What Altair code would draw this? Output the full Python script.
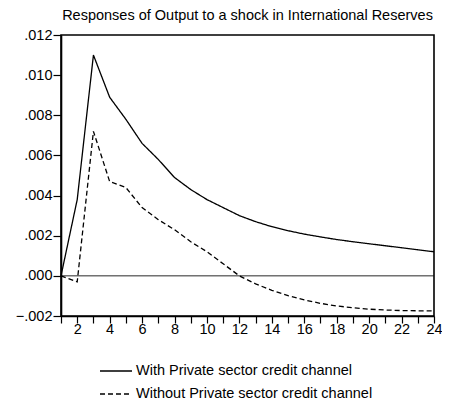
import altair as alt
import pandas as pd

periods = list(range(1, 25))
with_credit = [0.0, 0.0038, 0.0110, 0.0089, 0.0078, 0.0066, 0.0058, 0.0049,
               0.0043, 0.0038, 0.0034, 0.0030, 0.0027, 0.00245, 0.00225, 0.00208,
               0.00194, 0.00181, 0.0017, 0.0016, 0.0015, 0.0014, 0.0013, 0.0012]
without_credit = [0.0, -0.0003, 0.0072, 0.0047, 0.0044, 0.0034, 0.0028, 0.0023,
                  0.0017, 0.0012, 0.0006, 0.0000, -0.0004, -0.00072, -0.00098, -0.0012,
                  -0.00137, -0.0015, -0.00159, -0.00166, -0.0017, -0.00173, -0.00174, -0.00175]
series_names = ["With Private sector credit channel", "Without Private sector credit channel"]
y_ticks = [-0.002, 0.0, 0.002, 0.004, 0.006, 0.008, 0.010, 0.012]
title_text = "Responses of Output to a shock in International Reserves"

df = pd.DataFrame({
    "period": periods * 2,
    "value": with_credit + without_credit,
    "series": [series_names[0]] * len(periods) + [series_names[1]] * len(periods),
})
zero_df = pd.DataFrame({"y": [0.0]})

FONT = "Liberation Sans"

x_enc = alt.X("period:Q",
              scale=alt.Scale(domain=[1, 24], nice=False, zero=False),
              axis=alt.Axis(values=periods, title=None, grid=False,
                            labelExpr="datum.value % 2 == 0 ? datum.label : ''",
                            tickSize=7, labelPadding=-1, labelFontSize=14.5,
                            labelFlush=False))
y_enc = alt.Y("value:Q",
              scale=alt.Scale(domain=[-0.002, 0.012], nice=False, zero=False),
              axis=alt.Axis(values=y_ticks, title=None, grid=False,
                            labelExpr="replace(format(datum.value, '.3f'), '0.', '.')",
                            tickSize=8, labelPadding=1, labelFontSize=14.5,
                            labelFlush=False))

zero_rule = alt.Chart(zero_df).mark_rule(color="#111111", strokeWidth=0.9).encode(
    y=alt.Y("y:Q", scale=alt.Scale(domain=[-0.002, 0.012], nice=False, zero=False))
)

lines = alt.Chart(df).mark_line(color="black", strokeWidth=1.3).encode(
    x=x_enc,
    y=y_enc,
    strokeDash=alt.StrokeDash(
        "series:N",
        scale=alt.Scale(domain=series_names, range=[[1, 0], [5, 3]]),
        legend=alt.Legend(title=None, orient="none", legendX=38, legendY=328,
                          direction="vertical", symbolType="stroke",
                          symbolSize=1024, symbolStrokeColor="black",
                          symbolStrokeWidth=1.3, labelFontSize=14.5,
                          labelFont=FONT, labelOffset=3, clipHeight=16,
                          rowPadding=7, padding=0, labelColor="black",
                          labelLimit=400),
    ),
    order="period:Q",
)

chart = alt.layer(zero_rule, lines).properties(
    width=373,
    height=281,
    title=alt.TitleParams(title_text, fontSize=14.5, font=FONT, fontWeight="normal",
                          anchor="middle", offset=4, color="black"),
    autosize=alt.AutoSizeParams(type="none"),
    padding={"left": 53, "top": 27, "right": 8, "bottom": 88},
).configure_view(
    stroke="black", strokeWidth=1.6
).configure_axis(
    labelFont=FONT, labelColor="black", domainColor="black", domainWidth=1.6,
    tickColor="black", tickWidth=1.2
)

chart.save("out.html", embed_options={"renderer": "svg", "actions": False})
